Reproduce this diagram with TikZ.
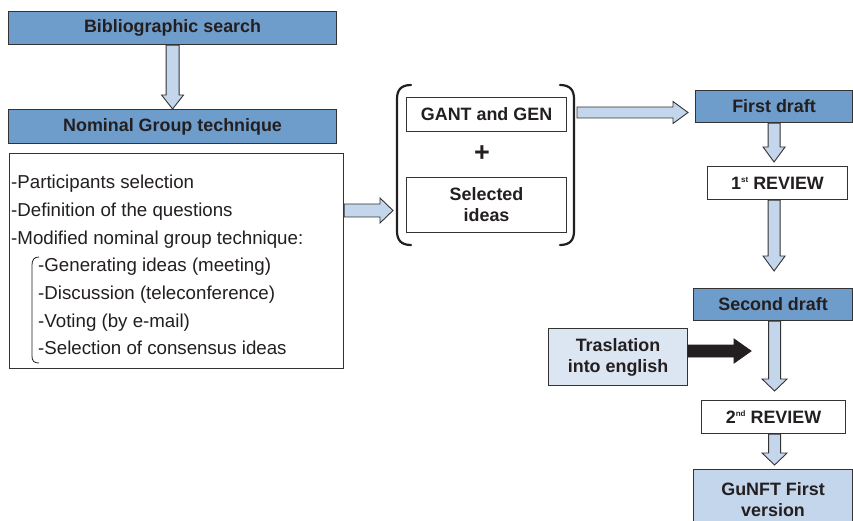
\documentclass[tikz,border=0pt]{standalone}
\usepackage{fontspec}
\setmainfont{Liberation Sans}
\usetikzlibrary{calc}
\definecolor{dblue}{HTML}{6F9DCB}
\definecolor{lblue}{HTML}{C4D6EB}
\definecolor{vlblue}{HTML}{DCE6F2}
\definecolor{txt}{HTML}{231F20}
\definecolor{edge}{HTML}{333333}
\newcommand\vblockarrow[6]{%
  \draw[#1] let \p1=(#2), \p2=(#3) in
    (\x1-#4,\y1) -- (\x1-#4,\y2+#6) -- (\x1-#5,\y2+#6) -- (\x1,\y2)
    -- (\x1+#5,\y2+#6) -- (\x1+#4,\y2+#6) -- (\x1+#4,\y1) -- cycle;}
\newcommand\hblockarrow[6]{%
  \draw[#1] let \p1=(#2), \p2=(#3) in
    (\x1,\y1+#4) -- (\x2-#6,\y1+#4) -- (\x2-#6,\y1+#5) -- (\x2,\y1)
    -- (\x2-#6,\y1-#5) -- (\x2-#6,\y1-#4) -- (\x1,\y1-#4) -- cycle;}
\begin{document}
\begin{tikzpicture}[x=1pt,y=-1pt,line join=miter,
  boldf/.style={font=\fontsize{17.9}{21}\selectfont\bfseries, text=txt, align=center},
  hdr/.style={boldf, draw=edge, line width=1.1pt, fill=dblue, inner sep=0pt, anchor=north west},
  wbox/.style={boldf, draw=edge, line width=1.1pt, fill=white, inner sep=0pt, anchor=north west},
  lbox/.style={boldf, draw=edge, line width=1.1pt, fill=vlblue, inner sep=0pt, anchor=north west},
  gbox/.style={boldf, draw=edge, line width=1.1pt, fill=lblue, inner sep=0pt, anchor=north west},
  listline/.style={font=\fontsize{18.7}{22}\selectfont, text=txt, inner sep=0pt, anchor=base west},
  blk/.style={draw=edge, line width=0.9pt, fill=lblue},
  blkdark/.style={draw=txt, line width=0.9pt, fill=txt},
  paren/.style={draw=txt, line width=2.2pt, line cap=round},
  thinbr/.style={draw=txt, line width=0.8pt},
]
\useasboundingbox (0,0) rectangle (853,521);
\clip (0,0) rectangle (853,521);

% left column
\node[hdr, minimum width=328pt, minimum height=33pt] (bib) at (8,11) {Bibliographic search};
\node[hdr, minimum width=328pt, minimum height=34pt] (ngt) at (8,109) {Nominal Group technique};
\node[draw=edge, line width=1.1pt, fill=white, inner sep=0pt, anchor=north west,
      minimum width=334pt, minimum height=215pt] (list) at (9,153) {};
\node[listline] (l1) at (11,189)   {-Participants selection};
\node[listline] (l2) at (11,216.6) {-Definition of the questions};
\node[listline] (l3) at (11,244.2) {-Modified nominal group technique:};
\node[listline] (l4) at (38,271.8) {-Generating ideas (meeting)};
\node[listline] (l5) at (38,299.4) {-Discussion (teleconference)};
\node[listline] (l6) at (38,327)   {-Voting (by e-mail)};
\node[listline] (l7) at (38,354.6) {-Selection of consensus ideas};
\draw[thinbr] (39,257) .. controls (34,257) and (32,260) .. (32,265) -- (32,356)
  .. controls (32,361) and (34,363) .. (39,363);

\vblockarrow{blk}{bib.south}{ngt.north}{6.5pt}{11pt}{14pt}

% middle group
\node[wbox, minimum width=160pt, minimum height=34pt] (gant) at (406,97) {GANT and GEN};
\node[font=\fontsize{27}{27}\selectfont\bfseries, text=txt, inner sep=0pt] (plus) at (482,154) {+};
\node[wbox, minimum width=160pt, minimum height=55pt] (sel) at (406,177) {Selected\\ideas};
\draw[paren] (411,85) .. controls (401,85) and (397,90) .. (397,99) -- (397,231)
  .. controls (397,240) and (401,245) .. (411,245);
\draw[paren] (560,85) .. controls (570,85) and (574,90) .. (574,99) -- (574,231)
  .. controls (574,240) and (570,245) .. (560,245);
\coordinate (lp) at (393,210.5);
\coordinate (rp) at (577,112.5);
\hblockarrow{blk}{list.east |- lp}{lp}{6.5pt}{12.5pt}{13pt}

% right column
\node[hdr, minimum width=157pt, minimum height=32pt] (fd) at (695,90) {First draft};
\coordinate (fdin) at (688,112.5);
\hblockarrow{blk}{rp}{fdin}{5.5pt}{11pt}{15pt}
\node[wbox, minimum width=140pt, minimum height=33pt] (rev1) at (707,166)
  {1\raisebox{6.5pt}{\fontsize{8}{8}\selectfont st} REVIEW};
\vblockarrow{blk}{fd.south}{$(rev1.north)+(0,-4)$}{6pt}{11pt}{15pt}
\node[hdr, minimum width=159pt, minimum height=32pt] (sd) at (693,288) {Second draft};
\vblockarrow{blk}{rev1.south -| fd.south}{$(sd.north -| fd.south)+(0,-17)$}{6pt}{11pt}{15pt}
\node[lbox, minimum width=139pt, minimum height=57pt] (trans) at (548,328) {Traslation\\into english};
\node[wbox, minimum width=144pt, minimum height=33pt] (rev2) at (701,400)
  {2\raisebox{6.5pt}{\fontsize{8}{8}\selectfont nd} REVIEW};
\vblockarrow{blk}{$(sd.south)+(1.5,0)$}{$(rev2.north)+(1,-9)$}{6pt}{12.5pt}{12pt}
\coordinate (tr) at (751,351);
\hblockarrow{blkdark}{trans.east |- tr}{tr}{6pt}{12pt}{17pt}
\node[gbox, minimum width=159pt, minimum height=61pt] (gu) at (693,469) {GuNFT First\\version};
\vblockarrow{blk}{$(rev2.south)+(1,0)$}{$(gu.north)+(1,-4)$}{6pt}{12.5pt}{12pt}
\end{tikzpicture}
\end{document}
